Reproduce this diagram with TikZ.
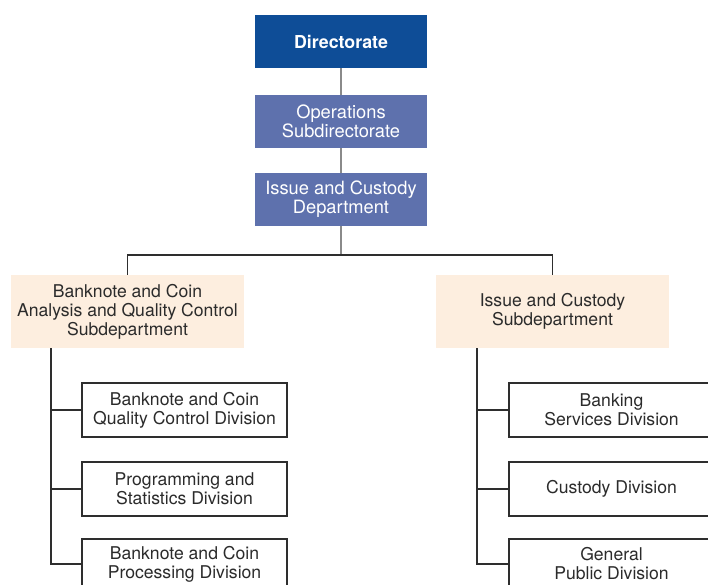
\documentclass[tikz,border=0pt]{standalone}
\usepackage{fontspec}
\setmainfont{TeX Gyre Heros}
\definecolor{dirblue}{HTML}{0E4D97}
\definecolor{subblue}{HTML}{5E71AD}
\definecolor{cream}{HTML}{FDEEDF}
\definecolor{txt}{HTML}{2B2B2B}
\definecolor{conn}{HTML}{8A8A8A}
\definecolor{lin}{HTML}{2E2E2E}
\begin{document}
\begin{tikzpicture}[x=1pt,y=-1pt,
  blueboxA/.style={fill=dirblue,text=white,minimum width=172pt,minimum height=53pt,inner sep=0pt,align=center,font=\fontsize{17.8}{19}\selectfont\bfseries},
  blueboxB/.style={fill=subblue,text=white,minimum width=172pt,minimum height=53pt,inner sep=0pt,align=center,font=\fontsize{18.3}{19}\selectfont},
  subbox/.style={fill=cream,text=txt,minimum width=233pt,minimum height=73pt,inner sep=0pt,align=center,font=\fontsize{17.6}{19}\selectfont},
  divbox/.style={draw=lin,line width=1.2pt,fill=white,text=txt,minimum width=205pt,minimum height=54pt,inner sep=0pt,align=center,font=\fontsize{17.6}{19}\selectfont},
  lastbox/.style={divbox,minimum height=50pt},
  topline/.style={draw=conn,line width=1.4pt},
  lowline/.style={draw=lin,line width=1.2pt}]
\useasboundingbox (0,0) rectangle (708,584);
\clip (0,0) rectangle (708,584);
\node[blueboxA] (dir) at (341,41.5) {Directorate};
\node[blueboxB] (ops) at (341,121.5) {Operations\\Subdirectorate};
\node[blueboxB] (dept) at (341,199.5) {Issue and Custody\\Department};
\node[subbox] (lsub) at (127.5,311.5) {Banknote and Coin\\Analysis and Quality Control\\Subdepartment};
\node[subbox] (rsub) at (552.5,311.5) {Issue and Custody\\Subdepartment};
\node[divbox] (l1) at (184.5,410) {Banknote and Coin\\Quality Control Division};
\node[divbox] (l2) at (184.5,489) {Programming and\\Statistics Division};
\node[lastbox] (l3) at (184.5,564) {Banknote and Coin\\Processing Division};
\node[divbox] (r1) at (611.5,410) {Banking\\Services Division};
\node[divbox] (r2) at (611.5,489) {Custody Division};
\node[lastbox] (r3) at (611.5,564) {General\\Public Division};
\coordinate (bus) at (341,255);
\coordinate (lsp) at (51,348);
\coordinate (rsp) at (477,348);
\draw[topline] (dir.south) -- (ops.north);
\draw[topline] (ops.south) -- (dept.north);
\draw[topline] (dept.south) -- (bus);
\draw[lowline] (lsub.north) |- (bus) -| (rsub.north);
\draw[lowline] (lsp) |- (l3.west);
\draw[lowline] (lsp |- l1.west) -- (l1.west);
\draw[lowline] (lsp |- l2.west) -- (l2.west);
\draw[lowline] (rsp) |- (r3.west);
\draw[lowline] (rsp |- r1.west) -- (r1.west);
\draw[lowline] (rsp |- r2.west) -- (r2.west);
\end{tikzpicture}
\end{document}
